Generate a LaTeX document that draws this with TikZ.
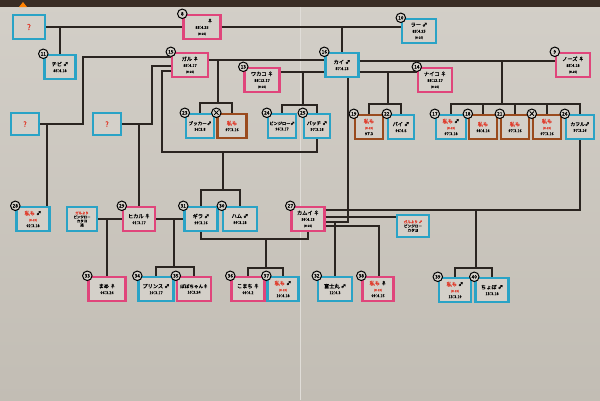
\documentclass[tikz,border=0pt]{standalone}
\usepackage{fontspec}
\setmainfont{Noto Sans CJK JP}
\newfontfamily\penfont{Noto Sans CJK JP}[FakeBold=1.6]
\usepackage{xcolor}
\definecolor{board}{HTML}{CCC8C0}
\definecolor{boardtop}{HTML}{D3CFC8}
\definecolor{boardlow}{HTML}{C2BDB4}
\definecolor{boardedge}{HTML}{3A2D25}
\definecolor{boxfill}{HTML}{D4D0C9}
\definecolor{boxblue}{HTML}{2AA3C6}
\definecolor{boxpink}{HTML}{E0457B}
\definecolor{boxbrown}{HTML}{9A4B1E}
\definecolor{linecol}{HTML}{2A2420}
\definecolor{namered}{HTML}{E03A2A}
\newcommand{\bday}[1]{{\fontsize{3.8}{4.6}\selectfont #1}}
\newcommand{\hmark}[1]{{\fontsize{2.8}{3.2}\selectfont #1}}
\newcommand{\nm}[1]{\textcolor{namered}{#1}}

\begin{document}
\begin{tikzpicture}[
    x=1pt, y=-1pt,
    card/.style={draw=#1, line width=2.4pt, fill=boxfill, minimum width=33pt, minimum height=24pt,
      inner sep=0.5pt, align=center, font=\penfont\fontsize{5.2}{6}\selectfont},
    num/.style={circle, draw=black, line width=1pt, fill=boxfill, inner sep=0pt,
      minimum size=9.5pt, font=\penfont\fontsize{4.8}{5}\selectfont},
    bond/.style={line width=1.1pt, color=linecol},
]
\useasboundingbox (0,0) rectangle (600,400);

% board
\shade[top color=boardtop, bottom color=boardlow] (0,0) rectangle (600,400);
\fill[boardedge] (0,0) rectangle (600,7);
\fill[orange] (19,7) -- (23,2) -- (27,7) -- cycle;
\draw[boardtop!70!white, line width=0.8pt] (300,7) -- (300,400);

% first generation
\node[card=boxblue, minimum width=32pt] (q1) at (29,27) {\nm{\fontsize{8}{9}\selectfont ?}};
\node[card=boxpink, minimum width=37pt] (f8) at (202,27) {\hspace{16pt}♀\\ \bday{83’.4.25}\\ \hmark{(H-25)}};
\node[card=boxblue, minimum width=34pt] (ra) at (419,31) {ラー\ ♂\\ \bday{83’.4.25}\\ \hmark{(H-25)}};
\node[card=boxblue, minimum width=31pt] (chibi) at (60,67) {チビ\ ♂\\ \bday{85’.4.18}};
\node[card=boxpink, minimum width=36pt] (garu) at (190,65) {ガル\ ♀\\ \bday{85’.4.17}\\ \hmark{(H-25)}};
\node[card=boxpink, minimum width=35pt] (wakako) at (262,80) {ワカコ\ ♀\\ \bday{88’.12.17}\\ \hmark{(H-25)}};
\node[card=boxblue] (kai) at (342,65) {カイ\ ♂\\ \bday{87’.4.13}};
\node[card=boxpink, minimum width=34pt] (naiko) at (435,80) {ナイコ\ ♀\\ \bday{88’.12.17}\\ \hmark{(H-25)}};
\node[card=boxpink, minimum width=34pt] (nozu) at (573,65) {ノーズ\ ♀\\ \bday{85’.4.18}\\ \hmark{(H-25)}};

\node[num] (chibi-n) at (chibi.north west) {11};
\node[num] (f8-n) at (f8.north west) {8};
\node[num] (ra-n) at (ra.north west) {10};
\node[num] (garu-n) at (garu.north west) {15};
\node[num] (wakako-n) at (wakako.north west) {13};
\node[num] (kai-n) at (kai.north west) {16};
\node[num] (naiko-n) at (naiko.north west) {14};
\node[num] (nozu-n) at (nozu.north west) {9};

% second generation
\node[card=boxblue, minimum width=28pt, minimum height=22pt] (q2) at (25,124) {\nm{\fontsize{7}{8}\selectfont ?}};
\node[card=boxblue, minimum width=28pt, minimum height=22pt] (q3) at (107,124) {\nm{\fontsize{7}{8}\selectfont ?}};
\node[card=boxblue, minimum width=28pt, font=\penfont\fontsize{4.6}{5.6}\selectfont] (bukka) at (200,126) {ブッカー♂\\ \bday{96’.3.8}};
\node[card=boxbrown, minimum width=29pt] (d1) at (232,126) {\nm{私も}\\ \bday{97’.3.16}};
\node[card=boxblue, minimum width=28pt, font=\penfont\fontsize{4.2}{5.4}\selectfont] (binjiro) at (282,126) {ビンジロー♂\\ \bday{96’.3.17}};
\node[card=boxblue, minimum width=26pt, font=\penfont\fontsize{4.8}{5.8}\selectfont] (patch) at (317,126) {パッチ\ ♂\\ \bday{97’.3.18}};
\node[card=boxbrown, minimum width=28pt] (d2) at (369,127) {\nm{私も}\\ \nm{\hmark{(H-25)}}\\ \bday{97’.3}};
\node[card=boxblue, minimum width=26pt] (pai) at (401,127) {パイ\ ♂\\ \bday{96’.4.5}};
\node[card=boxblue, minimum width=30pt] (b17) at (451,127) {\nm{私も}\ ♂\\ \nm{\hmark{(H-25)}}\\ \bday{97’.3.18}};
\node[card=boxbrown, minimum width=28pt] (d3) at (483,127) {\nm{私も}\\ \bday{98’.4.14}};
\node[card=boxbrown, minimum width=28pt] (d4) at (515,127) {\nm{私も}\\ \bday{97’.3.16}};
\node[card=boxbrown, minimum width=28pt] (d5) at (547,127) {\nm{私も}\\ \nm{\hmark{(H-25)}}\\ \bday{97’.3.16}};
\node[card=boxblue, minimum width=28pt, font=\penfont\fontsize{4.8}{5.8}\selectfont] (kaworu) at (580,127) {カヲル♂\\ \bday{97’.3.16}};

\node[num] (bukka-n) at (bukka.north west) {23};
\node[num, font=\penfont\fontsize{7}{7}\selectfont] (d1-n) at (d1.north west) {×};
\node[num] (binjiro-n) at (binjiro.north west) {24};
\node[num] (patch-n) at (patch.north west) {25};
\node[num] (d2-n) at (d2.north west) {19};
\node[num] (pai-n) at (pai.north west) {22};
\node[num] (b17-n) at (b17.north west) {17};
\node[num] (d3-n) at (d3.north west) {18};
\node[num] (d4-n) at (d4.north west) {21};
\node[num, font=\penfont\fontsize{7}{7}\selectfont] (d5-n) at (d5.north west) {×};
\node[num] (kaworu-n) at (kaworu.north west) {26};

% third generation
\node[card=boxblue] (b28) at (33,219) {\nm{私も}\ ♂\\ \nm{\hmark{(H-25)}}\\ \bday{02’.3.18}};
\node[card=boxblue, minimum width=30pt, font=\penfont\fontsize{3.4}{4}\selectfont] (note1) at (82,219) {\nm{ガルより}\\ ビンジロー\\ カタヨ\\ 通};
\node[card=boxpink, minimum width=32pt] (hikaru) at (139,219) {ヒカル\ ♀\\ \bday{01’.3.17}};
\node[card=boxblue] (gira) at (201,219) {ギラ\ ♂\\ \bday{99’.3.16}};
\node[card=boxblue, minimum width=34pt] (hamu) at (240,219) {ハム\ ♂\\ \bday{99’.3.18}};
\node[card=boxpink] (kamui) at (308,219) {カムイ\ ♀\\ \bday{99’.4.13}\\ \hmark{(H-25)}};
\node[card=boxblue, minimum width=32pt, minimum height=22pt, font=\penfont\fontsize{3.6}{4.2}\selectfont] (note2) at (413,226) {\nm{ガルより\ ♂}\\ ビンジロー\\ カタヨ};

\node[num] (b28-n) at (b28.north west) {28};
\node[num] (hikaru-n) at (hikaru.north west) {29};
\node[num] (gira-n) at (gira.north west) {31};
\node[num] (hamu-n) at (hamu.north west) {30};
\node[num] (kamui-n) at (kamui.north west) {27};

% fourth generation
\node[card=boxpink, minimum width=37pt] (mame) at (107,289) {まめ\ ♀\\ \bday{06’.3.24}};
\node[card=boxblue, minimum width=35pt] (purinsu) at (156,289) {プリンス\ ♂\\ \bday{10’.3.17}};
\node[card=boxpink, minimum width=34pt, font=\penfont\fontsize{4.6}{5.6}\selectfont] (bobo) at (194,289) {ぼぼちゃん♀\\ \bday{10’.3.24}};
\node[card=boxpink] (komachi) at (248,289) {こまち\ ♀\\ \bday{09’.4.2}};
\node[card=boxblue, minimum width=31pt] (b37) at (283,289) {\nm{私も}\ ♂\\ \nm{\hmark{(H-25)}}\\ \bday{10’.4.18}};
\node[card=boxblue, minimum width=34pt] (fuji) at (335,289) {富士丸\ ♂\\ \bday{12’.4.3}};
\node[card=boxpink, minimum width=31pt] (p38) at (378,289) {\nm{私も}\ ♀\\ \nm{\hmark{(H-25)}}\\ \bday{09’.4.15}};
\node[card=boxblue, minimum width=32pt] (b39) at (455,290) {\nm{私も}\ ♂\\ \nm{\hmark{(H-25)}}\\ \bday{13’.3.19}};
\node[card=boxblue] (chobo) at (492,290) {ちょぼ\ ♂\\ \bday{13’.3.18}};

\node[num] (mame-n) at (mame.north west) {33};
\node[num] (purinsu-n) at (purinsu.north west) {34};
\node[num] (bobo-n) at (bobo.north west) {35};
\node[num] (komachi-n) at (komachi.north west) {36};
\node[num] (b37-n) at (b37.north west) {37};
\node[num] (fuji-n) at (fuji.north west) {32};
\node[num] (p38-n) at (p38.north west) {38};
\node[num] (b39-n) at (b39.north west) {39};
\node[num] (chobo-n) at (chobo.north west) {40};

% top couples
\draw[bond] (q1.east) -- (f8.west);
\draw[bond] (chibi.north |- q1.east) -- (chibi.north);
\draw[bond] (f8.east) -- (f8.east -| ra.west);
\draw[bond] (kai.north |- f8.east) -- (kai.north);

% garu and kai
\coordinate (gk) at (218,60);
\draw[bond] (garu.east |- gk) -- (kai.west |- gk);
\draw[bond] (gk) -- (218,103) coordinate (gkb);
\draw[bond] (bukka.north) |- (gkb) -| (d1.north);

% wakako and kai
\coordinate (wk) at (303,72);
\draw[bond] (wakako.east |- wk) -- (kai.west |- wk);
\draw[bond] (wk) -- (303,105) coordinate (wkb);
\draw[bond] (binjiro.north) |- (wkb) -| (patch.north);

% kai and naiko
\coordinate (kn) at (388,72);
\draw[bond] (kai.east |- kn) -- (naiko.west |- kn);
\draw[bond] (kn) -- (388,104) coordinate (knb);
\draw[bond] (d2.north) |- (knb) -| (pai.north);

% kai and nozu
\coordinate (kz) at (502,61);
\draw[bond] (kai.east |- kz) -- (nozu.west |- kz);
\draw[bond] (kz) -- (502,104) coordinate (kzb);
\draw[bond] (b17.north) |- (kzb) -| (kaworu.north);
\foreach \c in {d3,d4,d5} {
    \draw[bond] (\c.north |- kzb) -- (\c.north);
}

% garu and the unknown ones
\coordinate (gq) at (83,57);
\draw[bond] (garu.west |- gq) -- (gq) |- (q2.east);
\coordinate (lq) at (47,124);
\draw[bond] (lq) -- (lq |- b28.north);
\coordinate (gq3) at (152,66);
\draw[bond] (garu.west |- gq3) -- (gq3) |- (q3.east);
\draw[bond] (hikaru.north |- q3.east) -- (hikaru.north);

% garu and patch
\coordinate (gp) at (162,71);
\draw[bond] (garu.west |- gp) -- (gp) |- (317,152) coordinate (gpb) -- (patch.south);
\draw[bond] (223,152) -- (223,190) coordinate (gpc);
\draw[bond] (gira.north) |- (gpc) -| (hamu.north);

% hikaru
\draw[bond] (note1.east) -- (hikaru.west);
\draw[bond] (mame.north |- note1.east) -- (mame.north);
\draw[bond] (hikaru.east) -- (gira.west);
\draw[bond] (174,219) -- (174,267) coordinate (hgb);
\draw[bond] (purinsu.north) |- (hgb) -| (bobo.north);

% gira and kamui
\coordinate (gkm) at (266,239);
\draw[bond] (gira.south) |- (gkm) -| (kamui.south);
\draw[bond] (gkm) -- (266,268) coordinate (gkmb);
\draw[bond] (komachi.north) |- (gkmb) -| (b37.north);

% kamui and kaworu
\coordinate (kk) at (476,210);
\draw[bond] (kamui.east |- kk) -| (kaworu.south);
\draw[bond] (kk) -- (476,268) coordinate (kkb);
\draw[bond] (b39.north) |- (kkb) -| (chobo.north);

% kamui and the note
\coordinate (kn2) at (400,217);
\draw[bond] (kamui.east |- kn2) -- (note2.west |- kn2);

% kamui and kai
\coordinate (kc) at (348,222);
\draw[bond] (kai.south -| kc) -- (kc) -- (kamui.east |- kc);
\draw[bond] (fuji.north |- kc) -- (fuji.north);
\coordinate (kc2) at (379,226);
\draw[bond] (kamui.east |- kc2) -- (kc2) -- (kc2 |- p38.north);

\end{tikzpicture}
\end{document}
